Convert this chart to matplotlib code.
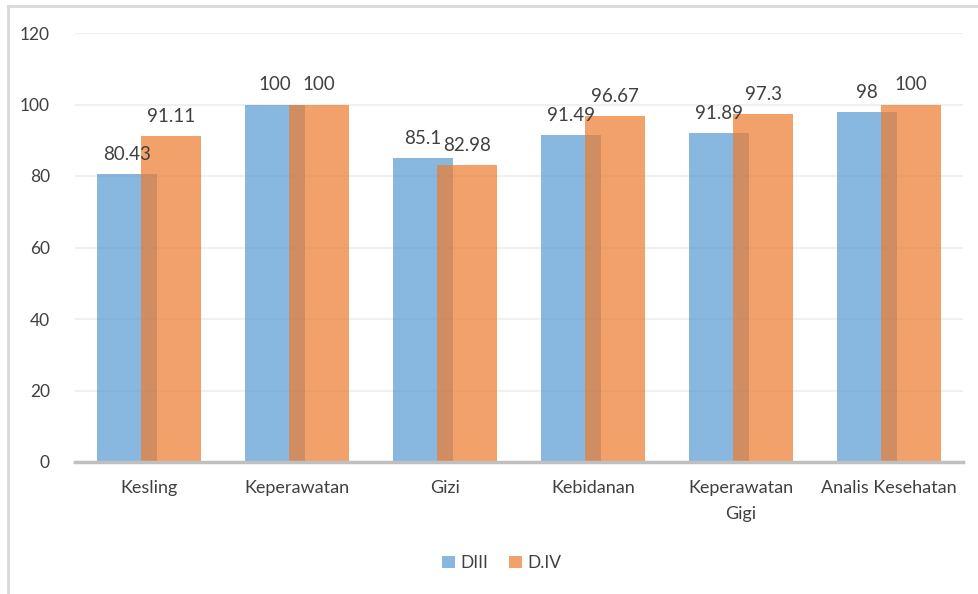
import matplotlib.pyplot as plt
from matplotlib.lines import Line2D
from matplotlib.patches import Patch
import numpy as np

# data
categories = ['Kesling', 'Keperawatan', 'Gizi', 'Kebidanan', 'Keperawatan\nGigi', 'Analis Kesehatan']
diii = [80.43, 100, 85.1, 91.49, 91.89, 98]
div = [91.11, 100, 82.98, 96.67, 97.3, 100]
series_names = ['DIII', 'D.IV']

plt.rcParams['font.family'] = ['Lato', 'DejaVu Sans']

blue = '#5B9BD5'
orange = '#ED7D31'
alpha = 0.72

fig = plt.figure(figsize=(9.79, 5.94), dpi=100)
ax = fig.add_axes([75 / 979, 132 / 594, 888 / 979, 429 / 594])

x = np.arange(len(categories))
width = 0.40
offset = 0.149

bars1 = ax.bar(x - offset, diii, width, color=blue, alpha=alpha, zorder=2)
bars2 = ax.bar(x + offset, div, width, color=orange, alpha=alpha, zorder=3)

# value labels above each bar
for bars, vals in [(bars1, diii), (bars2, div)]:
    for b, v in zip(bars, vals):
        ax.annotate(f'{v:g}', (b.get_x() + b.get_width() / 2, v),
                    xytext=(0, 8), textcoords='offset points',
                    ha='center', va='bottom', fontsize=13.5, color='#404040', zorder=5)

ax.set_xlim(-0.5, len(categories) - 0.5)
ax.set_ylim(0, 120)
ax.set_yticks(range(0, 121, 20))
ax.set_xticks(x)
ax.set_xticklabels(categories, fontsize=13, color='#404040', linespacing=1.8)
ax.tick_params(axis='y', labelsize=12.5, labelcolor='#404040', length=0, pad=18)
ax.tick_params(axis='x', length=0, pad=13)

ax.yaxis.grid(True, color='#F0F0F0', linewidth=1.5, zorder=0)
ax.set_axisbelow(True)
for s in ['top', 'right', 'left']:
    ax.spines[s].set_visible(False)
ax.spines['bottom'].set_color('#BFBFBF')
ax.spines['bottom'].set_linewidth(2.5)
ax.spines['bottom'].set_zorder(6)

handles = [Patch(facecolor=blue, alpha=alpha), Patch(facecolor=orange, alpha=alpha)]
fig.legend(handles, series_names, loc='center', bbox_to_anchor=(502 / 979, 1 - 563 / 594),
           ncol=2, frameon=False, fontsize=12.5, handlelength=0.75, handleheight=0.75,
           handletextpad=0.3, columnspacing=1.2, labelcolor='#404040')

# chart border (left and top edges)
fig.add_artist(Line2D([8 / 979, 8 / 979], [0, 1 - 6 / 594], transform=fig.transFigure,
                      color='#D9D9D9', linewidth=2))
fig.add_artist(Line2D([8 / 979, 1], [1 - 6 / 594, 1 - 6 / 594], transform=fig.transFigure,
                      color='#D9D9D9', linewidth=2))

fig.savefig('out.png', dpi=100)
